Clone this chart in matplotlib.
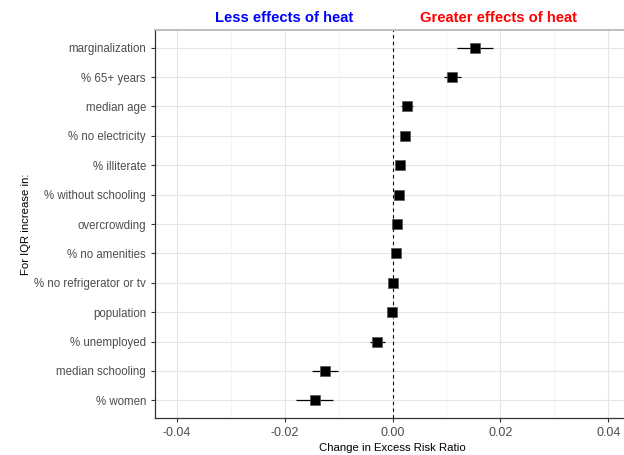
import matplotlib.pyplot as plt
import numpy as np

plt.rcParams['font.family'] = ['Liberation Sans', 'DejaVu Sans']

variables = ['marginalization', '% 65+ years', 'median age', '% no electricity',
             '% illiterate', '% without schooling', 'overcrowding', '% no amenities',
             '% no refrigerator or tv', 'population', '% unemployed',
             'median schooling', '% women']
estimate = [0.0152, 0.0110, 0.0027, 0.0023, 0.0013, 0.0012, 0.0008, 0.0006,
            0.0000, -0.0001, -0.0028, -0.0125, -0.0144]
lower = [0.0120, 0.0096, 0.0015, 0.0017, 0.0008, 0.0007, -0.0001, 0.0002,
         -0.0004, -0.0004, -0.0042, -0.0149, -0.0178]
upper = [0.0186, 0.0126, 0.0038, 0.0029, 0.0018, 0.0017, 0.0016, 0.0010,
         0.0004, 0.0002, -0.0014, -0.0101, -0.0111]
xticks = [-0.04, -0.02, 0.00, 0.02, 0.04]

fig = plt.figure(figsize=(6.24, 4.55), dpi=100)
ax = fig.add_axes([155 / 624, 37 / 455, 475 / 624, 388 / 455])

y = np.arange(len(variables))[::-1]
est = np.array(estimate)
xerr = [est - np.array(lower), np.array(upper) - est]

ax.axvline(0, color='black', linestyle=(0, (3, 3)), linewidth=0.8, zorder=2)
ax.errorbar(est, y, xerr=xerr, fmt='none', ecolor='black', elinewidth=0.9,
            capsize=0, zorder=3)
ax.plot(est, y, 's', color='black', markersize=6.5, markeredgecolor='#555555',
        markeredgewidth=0.5, zorder=4)

ax.set_xlim(-0.044, 0.044)
ax.set_ylim(-0.6, len(variables) - 0.4)
ax.set_xticks(xticks)
ax.set_xticklabels(['%.2f' % t for t in xticks])
ax.set_xticks([-0.03, -0.01, 0.01, 0.03], minor=True)
ax.set_yticks(y)
ax.set_yticklabels(variables)

ax.grid(True, which='major', color='#e5e5e5', linewidth=0.8)
ax.grid(True, which='minor', axis='x', color='#f2f2f2', linewidth=0.6)
ax.set_axisbelow(True)

for side in ['left', 'bottom']:
    ax.spines[side].set_color('#333333')
    ax.spines[side].set_linewidth(0.9)
ax.spines['top'].set_color('#b3b3b3')
ax.spines['top'].set_linewidth(1.2)
ax.spines['right'].set_visible(False)

ax.tick_params(axis='both', which='major', colors='#333333', labelcolor='#4d4d4d',
               labelsize=8.3, length=3, width=0.8)
ax.tick_params(axis='x', which='major', labelsize=9)
ax.tick_params(axis='x', which='minor', length=0)

ax.set_xlabel('Change in Excess Risk Ratio', fontsize=8.2, color='black', labelpad=3)
ax.set_ylabel('For IQR increase in:', fontsize=8.2, color='black', labelpad=2)

fig.text(284 / 624, 1 - 18 / 455, 'Less effects of heat', color='blue',
         fontsize=10.6, fontweight='bold', ha='center', va='center')
fig.text(499 / 624, 1 - 18 / 455, 'Greater effects of heat', color='red',
         fontsize=10.6, fontweight='bold', ha='center', va='center')

fig.savefig('out.png', dpi=100)
